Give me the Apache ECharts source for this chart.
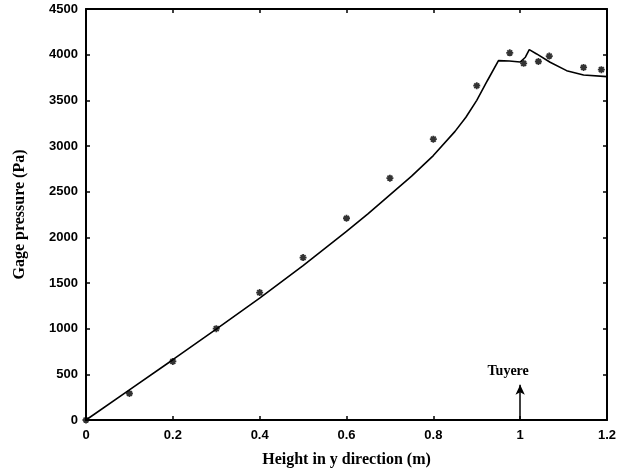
<!DOCTYPE html>
<html>
<head>
<meta charset="utf-8">
<script src="https://cdn.jsdelivr.net/npm/echarts@6/dist/echarts.min.js"></script>
<style>
  html, body { margin: 0; padding: 0; background: #fff; }
  #chart { width: 623px; height: 475px; }
</style>
</head>
<body>
<div id="chart"></div>
<script>
// measured points (stars)
const expX = [0, 0.1, 0.2, 0.3, 0.4, 0.5, 0.6, 0.7, 0.8, 0.9, 0.976, 1.008, 1.042, 1.067, 1.146, 1.187];
const expY = [0, 290, 641, 1000, 1395, 1778, 2209, 2648, 3075, 3660, 4020, 3905, 3925, 3985, 3860, 3836];

// simulated curve
const simX = [0, 0.1, 0.2, 0.3, 0.4, 0.5, 0.6, 0.65, 0.7, 0.75, 0.8, 0.85, 0.875, 0.9, 0.925, 0.95, 0.975, 1.0, 1.012, 1.021, 1.038, 1.069, 1.107, 1.146, 1.2];
const simY = [0, 330, 660, 995, 1335, 1690, 2065, 2260, 2465, 2670, 2895, 3160, 3315, 3500, 3720, 3935, 3930, 3920, 3972, 4055, 4008, 3917, 3825, 3777, 3760];

const tuyereX = 1.0;
const tuyereTop = 385;

const chart = echarts.init(document.getElementById('chart'));

const tickFont = { fontFamily: 'Liberation Sans', fontWeight: 'bold', fontSize: 13, color: '#000' };
const titleFont = { fontFamily: 'Liberation Serif', fontWeight: 'bold', fontSize: 16, color: '#000' };

const asterisk = 'path://M0,5L10,5M5,0L5,10M1.5,1.5L8.5,8.5M8.5,1.5L1.5,8.5';

const frameLine = { onZero: false, lineStyle: { color: '#000', width: 2 } };
const innerTick = { inside: true, length: 4, lineStyle: { color: '#000', width: 1.5 } };

const options = {
    animation: false,
    grid: { left: 86, right: 16, top: 9, bottom: 55 },
    xAxis: [{
        type: 'value', min: 0, max: 1.2, interval: 0.2,
        name: 'Height in y direction (m)', nameLocation: 'middle', nameGap: 32,
        nameTextStyle: titleFont,
        axisLine: frameLine,
        axisTick: innerTick,
        axisLabel: Object.assign({ margin: 9, formatter: v => String(v) }, tickFont),
        splitLine: { show: false }
    }, {
        type: 'value', min: 0, max: 1.2, interval: 0.2, position: 'top',
        axisLine: frameLine,
        axisTick: innerTick,
        axisLabel: { show: false },
        splitLine: { show: false }
    }],
    yAxis: [{
        type: 'value', min: 0, max: 4500, interval: 500,
        name: 'Gage pressure (Pa)', nameLocation: 'middle', nameGap: 58,
        nameTextStyle: titleFont,
        axisLine: frameLine,
        axisTick: innerTick,
        axisLabel: Object.assign({ margin: 8, formatter: v => String(v) }, tickFont),
        splitLine: { show: false }
    }, {
        type: 'value', min: 0, max: 4500, interval: 500, position: 'right',
        axisLine: frameLine,
        axisTick: innerTick,
        axisLabel: { show: false },
        splitLine: { show: false }
    }],
    series: [{
        name: 'Simulation',
        type: 'line',
        data: simX.map((x, i) => [x, simY[i]]),
        symbol: 'none',
        lineStyle: { color: '#000', width: 1.6 },
        markLine: {
            silent: true,
            symbol: ['none', 'arrow'],
            symbolSize: [7, 10],
            lineStyle: { color: '#000', width: 1.5, type: 'solid' },
            label: {
                show: true, position: 'end', formatter: 'Tuyere', distance: 6, offset: [-12, 0],
                fontFamily: 'Liberation Serif', fontWeight: 'bold', fontSize: 14, color: '#000'
            },
            data: [[{ coord: [tuyereX, 0] }, { coord: [tuyereX, tuyereTop] }]]
        }
    }, {
        name: 'Measured',
        type: 'scatter',
        data: expX.map((x, i) => [x, expY[i]]),
        symbol: asterisk,
        symbolSize: 7,
        itemStyle: { color: '#000', borderColor: '#000', borderWidth: 1.8 }
    }]
};
chart.setOption(options);
</script>
</body>
</html>
